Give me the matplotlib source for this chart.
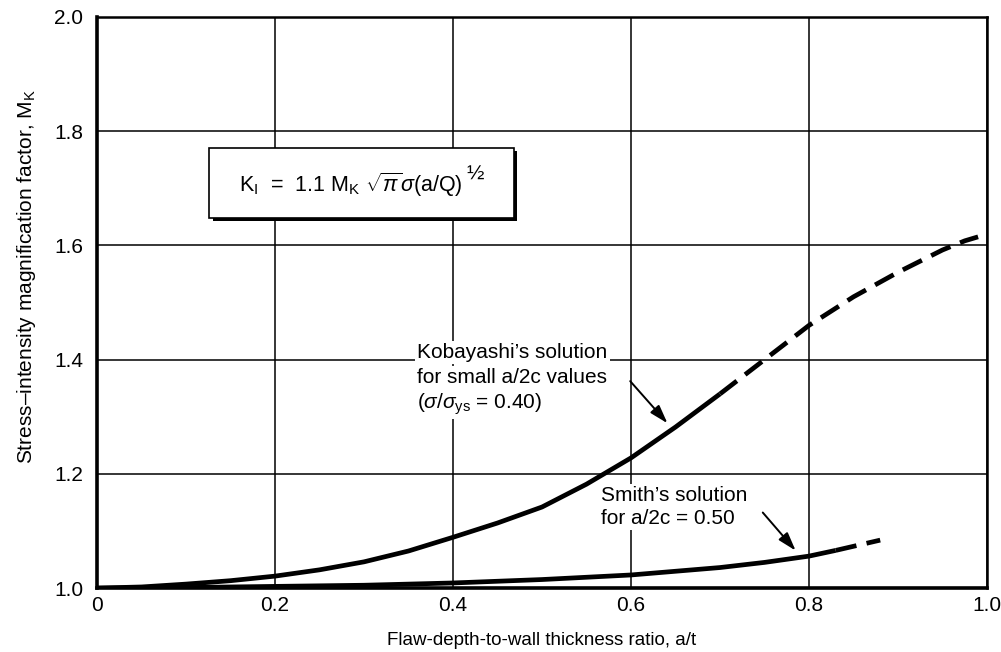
import matplotlib
matplotlib.use('Agg')
import matplotlib.pyplot as plt
from matplotlib.patches import Rectangle
import matplotlib.patheffects as pe

plt.rcParams['font.family'] = ['Liberation Sans', 'DejaVu Sans']
plt.rcParams['mathtext.fontset'] = 'custom'
plt.rcParams['mathtext.rm'] = 'Liberation Sans'
plt.rcParams['mathtext.it'] = 'Liberation Sans:italic'
plt.rcParams['mathtext.sf'] = 'Liberation Sans'

# Kobayashi's solution (small a/2c, sigma/sigma_ys = 0.40)
kob_solid_x = [0.0, 0.05, 0.1, 0.15, 0.2, 0.25, 0.3, 0.35, 0.4, 0.45, 0.5, 0.55, 0.6, 0.65, 0.7]
kob_solid_y = [1.0, 1.002, 1.007, 1.013, 1.021, 1.032, 1.046, 1.065, 1.089, 1.114, 1.142, 1.182,
               1.228, 1.282, 1.340]
kob_dash_x = [0.7, 0.75, 0.8, 0.85, 0.9, 0.95, 0.975, 0.99]
kob_dash_y = [1.340, 1.400, 1.460, 1.510, 1.553, 1.592, 1.608, 1.615]

# Smith's solution (a/2c = 0.50)
smith_solid_x = [0.0, 0.1, 0.2, 0.3, 0.4, 0.5, 0.6, 0.7, 0.75, 0.8, 0.83]
smith_solid_y = [1.0, 1.001, 1.003, 1.005, 1.009, 1.015, 1.023, 1.036, 1.045, 1.056, 1.066]
smith_dash_x = [0.83, 0.855, 0.88]
smith_dash_y = [1.066, 1.075, 1.084]

xticks = [0, 0.2, 0.4, 0.6, 0.8, 1.0]
xticklabels = ['0', '0.2', '0.4', '0.6', '0.8', '1.0']
yticks = [1.0, 1.2, 1.4, 1.6, 1.8, 2.0]
yticklabels = ['1.0', '1.2', '1.4', '1.6', '1.8', '2.0']

fig = plt.figure(figsize=(10.01, 6.52), dpi=100)
ax = fig.add_axes([0.097, 0.098, 0.889, 0.876])

ax.set_xlim(0, 1.0)
ax.set_ylim(1.0, 2.0)
ax.set_xticks(xticks)
ax.set_xticklabels(xticklabels)
ax.set_yticks(yticks)
ax.set_yticklabels(yticklabels)
ax.tick_params(length=0, labelsize=15)
ax.tick_params(axis='y', pad=10)
ax.tick_params(axis='x', pad=6)
ax.grid(True, color='black', lw=1.1)
ax.set_axisbelow(True)

for side in ['left', 'bottom']:
    ax.spines[side].set_linewidth(2.6)
for side in ['top', 'right']:
    ax.spines[side].set_linewidth(1.8)

lw = 3.4
ax.plot(kob_solid_x, kob_solid_y, color='black', lw=lw, solid_capstyle='butt', zorder=4)
ax.plot(kob_dash_x, kob_dash_y, color='black', lw=lw, dashes=(4.5, 2.2), zorder=4)
ax.plot(smith_solid_x, smith_solid_y, color='black', lw=lw, solid_capstyle='butt', zorder=4)
ax.plot(smith_dash_x, smith_dash_y, color='black', lw=lw, dashes=(4.5, 2.2), zorder=4)

# formula box with shadow
box = Rectangle((0.126, 1.648), 0.342, 0.123, facecolor='white', edgecolor='black',
                lw=1.2, zorder=3,
                path_effects=[pe.SimplePatchShadow(offset=(2.5, -2.5), shadow_rgbFace='black', alpha=1.0),
                              pe.Normal()])
ax.add_patch(box)
eq = ax.text(0.285, 1.706, r'K$_\mathrm{I}$  =  1.1 M$_\mathrm{K}$ $\sqrt{\pi}\sigma$(a/Q)',
             fontsize=15.5, ha='center', va='center', zorder=5)
ax.annotate('½', xy=(1.0, 0.55), xycoords=eq, xytext=(3, 0), textcoords='offset points',
            fontsize=15, ha='left', va='bottom', zorder=5)

txt_bbox = dict(facecolor='white', edgecolor='none', pad=1.5)
ax.text(0.36, 1.413, "Kobayashi\u2019s solution", fontsize=15, ha='left', va='center',
        bbox=txt_bbox, zorder=3)
ax.text(0.36, 1.369, "for small a/2c values", fontsize=15, ha='left', va='center',
        bbox=txt_bbox, zorder=3)
ax.text(0.36, 1.322, r"($\sigma/\sigma_{\mathrm{ys}}$ = 0.40)", fontsize=15, ha='left', va='center',
        bbox=txt_bbox, zorder=3)
ax.annotate('', xy=(0.643, 1.285), xytext=(0.597, 1.366),
            arrowprops=dict(arrowstyle='-|>,head_length=0.7,head_width=0.22', color='black',
                            lw=1.4, mutation_scale=16), zorder=5)

ax.text(0.566, 1.162, "Smith\u2019s solution", fontsize=15, ha='left', va='center',
        bbox=txt_bbox, zorder=3)
ax.text(0.566, 1.122, "for a/2c = 0.50", fontsize=15, ha='left', va='center',
        bbox=txt_bbox, zorder=3)
ax.annotate('', xy=(0.787, 1.062), xytext=(0.746, 1.136),
            arrowprops=dict(arrowstyle='-|>,head_length=0.7,head_width=0.22', color='black',
                            lw=1.4, mutation_scale=16), zorder=5)

ax.set_xlabel('Flaw-depth-to-wall thickness ratio, a/t', fontsize=13.5, labelpad=12)
ax.set_ylabel('Stress\u2013intensity magnification factor, M$_\\mathrm{K}$', fontsize=15)
ax.yaxis.set_label_coords(-0.066, 0.545)

fig.savefig('out.png', dpi=100)
